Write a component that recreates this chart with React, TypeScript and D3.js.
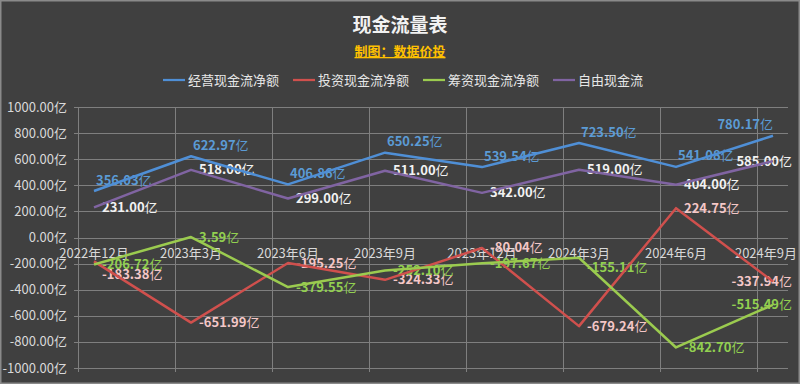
import React, { useEffect, useRef } from 'react';
import * as d3 from 'd3';

const categories = ['2022年12月', '2023年3月', '2023年6月', '2023年9月', '2023年12月', '2024年3月', '2024年6月', '2024年9月'];
const operating = [356.03, 622.97, 406.86, 650.25, 539.54, 723.5, 541.08, 780.17];
const investing = [-183.38, -651.99, -195.25, -324.33, -80.04, -679.24, 224.75, -337.94];
const financing = [-206.72, 3.59, -379.55, -252.1, -197.67, -155.11, -842.7, -515.49];
const freeCash = [231, 518, 299, 511, 342, 519, 404, 585];
const yTicks = [1000, 800, 600, 400, 200, 0, -200, -400, -600, -800, -1000];

const series = [
  { name: '经营现金流净额', values: operating, line: '#4f8fd6', label: '#5b9bd5', dx: 2, dy: -11 },
  { name: '投资现金流净额', values: investing, line: '#d0504d', label: '#f4c7c7', dx: 8, dy: 0 },
  { name: '筹资现金流净额', values: financing, line: '#9bcb4f', label: '#92d050', dx: 8, dy: 0 },
  { name: '自由现金流', values: freeCash, line: '#8064a2', label: '#f2f2f2', dx: 8, dy: 0 },
];

// a couple of labels were moved by hand in the original
const nudges: Record<string, number> = { '1-0': 13, '2-5': 10 };

const W = 800;
const H = 384;
const FONT = '"Noto Sans CJK SC", "Noto Sans", sans-serif';

const App = () => {
  const svgRef = useRef<SVGSVGElement>(null);

  useEffect(() => {
    const svg = d3.select(svgRef.current);
    svg.selectAll('*').remove();

    const x = d3.scaleLinear().domain([0, categories.length - 1]).range([94, 773]);
    const y = d3.scaleLinear().domain([-1000, 1000]).range([368, 107]);
    const step = x(1) - x(0);
    const left = 78;
    const right = 788;

    svg.append('rect').attr('width', W).attr('height', H).attr('fill', '#404040');
    svg.append('rect').attr('x', 0.75).attr('y', 0.75).attr('width', W - 1.5).attr('height', H - 1.5)
      .attr('fill', 'none').attr('stroke', '#8a8a8a').attr('stroke-width', 1.5);

    // title
    svg.append('text').attr('x', 400).attr('y', 32).attr('text-anchor', 'middle')
      .attr('font-family', FONT).attr('font-size', 19).attr('font-weight', 'bold').attr('fill', '#f2f2f2')
      .text('现金流量表');
    svg.append('text').attr('x', 400).attr('y', 56).attr('text-anchor', 'middle')
      .attr('font-family', FONT).attr('font-size', 13).attr('font-weight', 'bold').attr('fill', '#ffc000')
      .attr('text-decoration', 'underline')
      .text('制图：数据价投');

    // legend
    const legend = svg.append('g').selectAll('g').data(series).enter().append('g')
      .attr('transform', (d, i) => `translate(${163 + i * 130},80)`);
    legend.append('line').attr('x1', 0).attr('x2', 22).attr('stroke', d => d.line).attr('stroke-width', 2.25);
    legend.append('text').attr('x', 25).attr('dy', '0.35em')
      .attr('font-family', FONT).attr('font-size', 13).attr('fill', '#e6e6e6')
      .text(d => d.name);

    // grid
    const grid = svg.append('g').attr('stroke', '#7f7f7f').attr('stroke-width', 1);
    grid.selectAll('.h').data(yTicks).enter().append('line')
      .attr('x1', left - 4).attr('x2', right)
      .attr('y1', d => Math.round(y(d)) + 0.5).attr('y2', d => Math.round(y(d)) + 0.5);
    grid.selectAll('.v').data(categories).enter().append('line')
      .attr('x1', (d, i) => Math.round(x(i) - step / 6) + 0.5).attr('x2', (d, i) => Math.round(x(i) - step / 6) + 0.5)
      .attr('y1', y(1000)).attr('y2', y(-1000) + 4);

    svg.append('g').selectAll('text').data(yTicks).enter().append('text')
      .attr('x', 67).attr('y', d => y(d)).attr('dy', '0.35em').attr('text-anchor', 'end')
      .attr('font-family', FONT).attr('font-size', 13).attr('fill', '#d9d9d9')
      .text(d => `${d.toFixed(2)}亿`);

    svg.append('g').selectAll('text').data(categories).enter().append('text')
      .attr('y', y(0) + 16).attr('dy', '0.35em')
      .attr('font-family', FONT).attr('font-size', 13).attr('fill', '#d9d9d9')
      .text(d => d)
      .each(function (d, i) {
        const w = (this as SVGTextElement).getComputedTextLength();
        d3.select(this).attr('x', Math.min(x(i) - w / 2, 797 - w));
      });

    // data labels (drawn under the lines, as in the original)
    series.forEach((s, si) => {
      s.values.forEach((v, i) => {
        const t = svg.append('text')
          .attr('font-family', FONT).attr('font-size', 13).attr('font-weight', 'bold').attr('fill', s.label)
          .attr('dy', '0.35em');
        t.append('tspan').text(v.toFixed(2));
        t.append('tspan').attr('font-weight', 'normal').text('亿');
        const w = (t.node() as SVGTextElement).getComputedTextLength();
        let lx = x(i) + s.dx;
        if (lx + w > 792) lx = 792 - w;
        if (si === 0 && i === categories.length - 1) lx = x(i) - w;
        const ly = y(v) + s.dy + (nudges[`${si}-${i}`] || 0);
        t.attr('x', lx).attr('y', ly);
      });
    });

    const line = d3.line<number>().x((d, i) => x(i)).y(d => y(d));
    svg.append('g').selectAll('path').data(series).enter().append('path')
      .attr('d', d => line(d.values))
      .attr('fill', 'none').attr('stroke', d => d.line).attr('stroke-width', 2.5)
      .attr('stroke-linejoin', 'round');
  }, []);

  return (
    <div style={{ position: 'fixed', left: 0, top: 0 }}>
      <svg ref={svgRef} width={W} height={H} style={{ display: 'block' }}></svg>
    </div>
  );
};

export default App;
